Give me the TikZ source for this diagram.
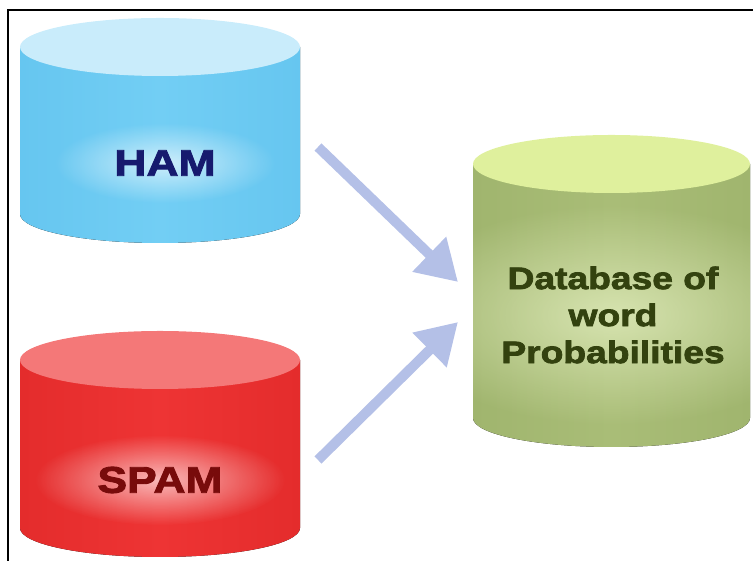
\documentclass[tikz,border=0pt]{standalone}
\usepackage{fontspec}
\usetikzlibrary{arrows.meta,fadings}
\newfontfamily\heavy{Liberation Sans Bold}[FakeStretch=1.2,FakeBold=2.5]

\definecolor{hambody}{HTML}{72CEF4}
\definecolor{hamedge}{HTML}{66C6F0}
\definecolor{hamtop}{HTML}{C9ECFB}
\definecolor{hamtext}{HTML}{161A6E}
\definecolor{spambody}{HTML}{EE3434}
\definecolor{spamedge}{HTML}{E42C2C}
\definecolor{spamtop}{HTML}{F47878}
\definecolor{spamtext}{HTML}{780B0B}
\definecolor{dbbody}{HTML}{A9BD77}
\definecolor{dbedge}{HTML}{A0B56E}
\definecolor{dbtop}{HTML}{DFF09D}
\definecolor{dbtext}{HTML}{33420F}
\definecolor{flow}{HTML}{B4C0E7}

\tikzfading[name=glowfade,inner color=transparent!35,outer color=transparent!100]

% side, top: cx, ytop, ybottom, rx, side style, top style
\newcommand{\drum}[6]{%
  \fill[#5] ({#1-#4},#2) -- ({#1-#4},#3) arc[start angle=180,end angle=360,x radius=#4,y radius=29] -- ({#1+#4},#2) -- cycle;
  \fill[#6] (#1,#2) ellipse[x radius=#4,y radius=29];
}

\tikzset{
  hamside/.style={left color=hamedge,right color=hamedge,middle color=hambody},
  spamside/.style={left color=spamedge,right color=spamedge,middle color=spambody},
  dbside/.style={left color=dbedge,right color=dbedge,middle color=dbbody},
  glow/.style={fill=#1,path fading=glowfade},
  label/.style={font=\heavy\fontsize{37}{40}\selectfont,align=center},
  flowarrow/.style={draw=flow,line width=10pt,-{Triangle[width=46pt,length=40pt]}}
}

\begin{document}
\begin{tikzpicture}[x=1pt,y=1pt]
  \useasboundingbox (0,0) rectangle (753,561);
  \draw[line width=2pt] (8,0) -- (8,551) -- (753,551);

  \drum{160}{514}{347}{140}{hamside}{fill=hamtop}
  \drum{160}{201}{33}{140}{spamside}{fill=spamtop}
  \drum{611.5}{397}{143}{138.5}{dbside}{fill=dbtop}

  % soft halo behind the words
  \fill[glow=white] (165,398) ellipse[x radius=110,y radius=40];
  \fill[glow=white] (160,81) ellipse[x radius=125,y radius=45];
  \begin{scope}
    \clip (473,368) -- (473,143) arc[start angle=180,end angle=360,x radius=138.5,y radius=29] -- (750,368) -- cycle;
    \fill[glow=dbtop!50!white] (613,246) ellipse[x radius=225,y radius=110];
  \end{scope}

  \node[label,text=hamtext] (ham) at (165,398) {HAM};
  \node[label,text=spamtext] (spam) at (160,81) {SPAM};
  \node[label,text=dbtext,font=\heavy\fontsize{31}{37}\selectfont] (db) at (613,246) {Database of\\word\\Probabilities};

  \coordinate (hamout) at (318,414);
  \coordinate (spamout) at (318,101);
  \coordinate (dbin1) at (458,279);
  \coordinate (dbin2) at (458,239);
  \draw[flowarrow] (hamout) -- (dbin1);
  \draw[flowarrow] (spamout) -- (dbin2);
\end{tikzpicture}
\end{document}
